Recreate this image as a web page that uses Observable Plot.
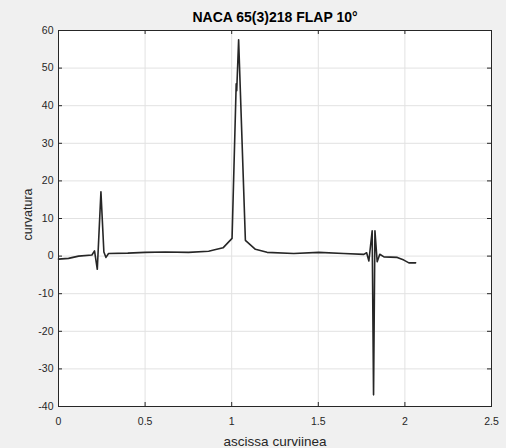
<!DOCTYPE html>
<html>
<head>
<meta charset="utf-8">
<script src="https://cdn.jsdelivr.net/npm/d3@7"></script>
<script src="https://cdn.jsdelivr.net/npm/@observablehq/plot@0.6"></script>
<style>
  html, body { margin: 0; padding: 0; background: #f0f0f0; }
  #chart { width: 506px; height: 448px; }
</style>
</head>
<body>
<div id="chart"></div>
<script>
const title = "NACA 65(3)218 FLAP 10°";
const xLabel = "ascissa curviinea";
const yLabel = "curvatura";

const xTicks = [0, 0.5, 1, 1.5, 2, 2.5];
const xTickLabels = ["0", "0.5", "1", "1.5", "2", "2.5"];
const yTicks = [-40, -30, -20, -10, 0, 10, 20, 30, 40, 50, 60];
const yTickLabels = ["-40", "-30", "-20", "-10", "0", "10", "20", "30", "40", "50", "60"];

// ascissa curvilinea (s) and curvatura (k)
const s = [0.000, 0.058, 0.116, 0.193, 0.208, 0.224, 0.245, 0.262, 0.274, 0.289,
           0.400, 0.500, 0.617, 0.751, 0.867, 0.896, 0.950, 1.002, 1.026, 1.029,
           1.040, 1.079, 1.137, 1.204, 1.358, 1.503, 1.647, 1.763, 1.779, 1.792,
           1.811, 1.819, 1.827, 1.840, 1.855, 1.879, 1.956, 1.994, 2.023, 2.062];
const k = [-0.8, -0.6, 0.0, 0.3, 1.4, -3.5, 17.1, 1.1, -0.35, 0.7,
           0.8, 1.0, 1.1, 1.0, 1.3, 1.6, 2.2, 4.7, 45.8, 44.0,
           57.5, 4.2, 1.8, 1.0, 0.7, 1.0, 0.7, 0.45, 0.9, -1.3,
           6.7, -36.9, 6.7, -1.5, 0.5, -0.2, -0.35, -1.06, -1.8, -1.8];

const data = s.map((v, i) => ({s: v, k: k[i]}));

const W = 506, H = 448, mL = 58, mR = 15, mT = 30, mB = 42;
const fw = W - mL - mR, fh = H - mT - mB, tl = 4;
const axisColor = "#262626";
const xFmt = d => xTickLabels[xTicks.indexOf(d)];
const yFmt = d => yTickLabels[yTicks.indexOf(d)];

const chart = Plot.plot({
  width: W, height: H,
  marginLeft: mL, marginRight: mR, marginTop: mT, marginBottom: mB,
  style: {background: "#f0f0f0", fontFamily: "'Liberation Sans', Arial, sans-serif", color: axisColor},
  x: {domain: [0, 2.5]},
  y: {domain: [-40, 60]},
  marks: [
    Plot.frame({fill: "white", stroke: "none"}),
    Plot.gridX(xTicks, {stroke: "#e2e2e2", strokeOpacity: 1}),
    Plot.gridY(yTicks, {stroke: "#e2e2e2", strokeOpacity: 1}),
    Plot.tickX(xTicks, {x: d => d, insetTop: fh - tl, stroke: axisColor}),
    Plot.tickX(xTicks, {x: d => d, insetBottom: fh - tl, stroke: axisColor}),
    Plot.tickY(yTicks, {y: d => d, insetRight: fw - tl, stroke: axisColor}),
    Plot.tickY(yTicks, {y: d => d, insetLeft: fw - tl, stroke: axisColor}),
    Plot.line(data, {x: "s", y: "k", stroke: "#262626", strokeWidth: 1.6, strokeLinejoin: "round"}),
    Plot.frame({stroke: axisColor, strokeWidth: 1}),
    Plot.axisX(xTicks, {tickSize: 0, tickPadding: 11, fontSize: 10.5, fill: axisColor, tickFormat: xFmt, label: null}),
    Plot.axisY(yTicks, {tickSize: 0, tickPadding: 5, fontSize: 10.5, fill: axisColor, tickFormat: yFmt, label: null}),
    Plot.text([title], {frameAnchor: "top", dy: -13, text: d => d, fontWeight: "bold", fontSize: 14, fill: "#000", lineAnchor: "middle", textAnchor: "middle"}),
    Plot.text([xLabel], {frameAnchor: "bottom", dy: 35, text: d => d, fontSize: 13.5, fill: axisColor, lineAnchor: "middle", textAnchor: "middle"}),
    Plot.text([yLabel], {frameAnchor: "left", dx: -31, dy: -4, rotate: -90, text: d => d, fontSize: 12.5, fill: axisColor, lineAnchor: "middle", textAnchor: "middle"})
  ]
});
document.getElementById("chart").appendChild(chart);
</script>
</body>
</html>
